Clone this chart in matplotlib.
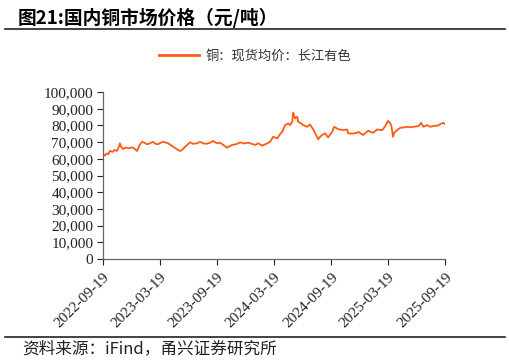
import matplotlib
matplotlib.use("Agg")
import matplotlib.pyplot as plt
import matplotlib.dates as mdates
from matplotlib.lines import Line2D
import pandas as pd

plt.rcParams['font.family'] = ['Liberation Serif', 'Noto Sans CJK SC', 'DejaVu Sans']

# 铜：现货均价：长江有色（元/吨），读图估计
dates = [
    '2022-09-19', '2022-09-25', '2022-10-01', '2022-10-06', '2022-10-11', '2022-10-19',
    '2022-10-27', '2022-11-02', '2022-11-07', '2022-11-12', '2022-11-17', '2022-11-22',
    '2022-11-28', '2022-12-04', '2022-12-12', '2022-12-20', '2022-12-28', '2023-01-06',
    '2023-01-14', '2023-01-22', '2023-01-30', '2023-02-07', '2023-02-16', '2023-02-26',
    '2023-03-06', '2023-03-14', '2023-03-22', '2023-03-30', '2023-04-07', '2023-04-15',
    '2023-04-23', '2023-05-01', '2023-05-09', '2023-05-17', '2023-05-24', '2023-05-30',
    '2023-06-09', '2023-06-17', '2023-06-25', '2023-07-05', '2023-07-17', '2023-07-27',
    '2023-08-05', '2023-08-16', '2023-08-28', '2023-09-06', '2023-09-19', '2023-09-29',
    '2023-10-10', '2023-10-21', '2023-11-06', '2023-11-20', '2023-12-02', '2023-12-15',
    '2023-12-28', '2024-01-10', '2024-01-19', '2024-01-29', '2024-02-11', '2024-02-27',
    '2024-03-07', '2024-03-17', '2024-03-30', '2024-04-08', '2024-04-15', '2024-04-24',
    '2024-05-04', '2024-05-10', '2024-05-17', '2024-05-20', '2024-05-26', '2024-06-02',
    '2024-06-05', '2024-06-13', '2024-06-21', '2024-07-04', '2024-07-13', '2024-07-23',
    '2024-07-29', '2024-08-08', '2024-08-14', '2024-08-21', '2024-08-30', '2024-09-09',
    '2024-09-22', '2024-09-28', '2024-10-11', '2024-10-27', '2024-11-09', '2024-11-12',
    '2024-11-26', '2024-12-11', '2024-12-14', '2024-12-30', '2025-01-15', '2025-01-31',
    '2025-02-13', '2025-03-01', '2025-03-11', '2025-03-20', '2025-03-26', '2025-03-30',
    '2025-04-05', '2025-04-09', '2025-04-18', '2025-04-28', '2025-05-08', '2025-05-20',
    '2025-06-01', '2025-06-09', '2025-06-25', '2025-07-04', '2025-07-11', '2025-07-23',
    '2025-08-02', '2025-08-10', '2025-08-18', '2025-08-26', '2025-09-03', '2025-09-13',
    '2025-09-19',
]
price = [
    63000, 62000, 63300, 62700, 64800, 64200,
    65300, 64700, 66200, 69300, 66900, 65900,
    66600, 66700, 66300, 66900, 66200, 64700,
    68200, 70200, 69600, 68700, 69300, 70200,
    69000, 68700, 69600, 70200, 69800, 69300,
    68400, 67300, 66400, 65300, 64700, 65300,
    67300, 68600, 69900, 69000, 69300, 70200,
    69300, 69000, 69700, 70700, 69300, 69700,
    68200, 66700, 68300, 68800, 69900, 69200,
    69700, 68900, 68300, 69300, 67900, 69300,
    70200, 73200, 72300, 74800, 76200, 80200,
    81200, 80200, 82200, 87800, 84200, 85200,
    82200, 81400, 80200, 79200, 80600, 77600,
    75600, 71700, 73200, 74300, 75300, 72900,
    76200, 79200, 77800, 77200, 77600, 75300,
    75100, 75600, 76200, 74300, 76800, 75600,
    77600, 77200, 79600, 82800, 81500, 80200,
    73200, 75800, 77200, 78600, 78800, 79200,
    78900, 79200, 79600, 81600, 79200, 80200,
    79200, 79600, 79800, 79900, 80800, 81600,
    80600,
]
ticks = ['2022-09-19', '2023-03-19', '2023-09-19', '2024-03-19',
         '2024-09-19', '2025-03-19', '2025-09-19']
series_name = '铜：现货均价：长江有色'

s = pd.Series(price, index=pd.to_datetime(dates))

fig = plt.figure(figsize=(5.1, 3.64), dpi=100)
ax = fig.add_axes([0.202, 0.2885, 0.671, 0.4585])
ax.plot(s.index, s.values, color='#FF5B14', lw=1.3)

ax.set_xlim(pd.Timestamp(ticks[0]), pd.Timestamp(ticks[-1]))
ax.set_xticks(pd.to_datetime(ticks))
ax.xaxis.set_major_formatter(mdates.DateFormatter('%Y-%m-%d'))
ax.set_ylim(0, 100000)
ax.set_yticks(range(0, 100001, 10000))
ax.yaxis.set_major_formatter(matplotlib.ticker.FuncFormatter(lambda v, p: f'{int(v):,}'))
for lab in ax.get_xticklabels():
    lab.set_rotation(45)
    lab.set_ha('right')
    lab.set_rotation_mode('anchor')
ax.tick_params(labelsize=11, colors='#222222', length=4, width=0.8, pad=3)
ax.tick_params(axis='x', pad=4)
for sp in ['top', 'right']:
    ax.spines[sp].set_visible(False)
for sp in ['left', 'bottom']:
    ax.spines[sp].set_color('#666666')
    ax.spines[sp].set_linewidth(0.9)

# legend
handle = Line2D([], [], color='#FF5B14', lw=2)
fig.legend([handle], [series_name], loc='center', bbox_to_anchor=(0.5, 0.845),
           frameon=False, handlelength=3.0, handletextpad=0.5,
           prop={'family': 'Noto Sans CJK SC', 'size': 9.5}, labelcolor='#333333')

# title and source
fig.text(0.035, 0.95, '图21:国内铜市场价格（元/吨）', fontsize=13.5, fontweight='bold',
         va='center', ha='left', family=['Noto Sans CJK SC'])
fig.add_artist(Line2D([0.01, 0.99], [0.92, 0.92], color='#222222', lw=1.2))
fig.add_artist(Line2D([0.01, 0.99], [0.074, 0.074], color='#222222', lw=1.2))
fig.text(0.043, 0.043, '资料来源：iFind，甬兴证券研究所', fontsize=12, style='italic',
         va='center', ha='left', family=['Noto Sans CJK SC'], color='#222222')

fig.savefig('out.png', dpi=100)
